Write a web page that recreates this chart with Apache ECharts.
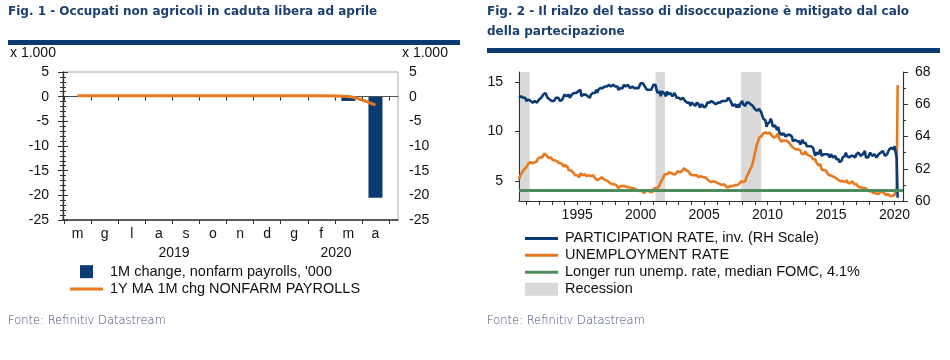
<!DOCTYPE html>
<html><head><meta charset="utf-8">
<script src="https://cdn.jsdelivr.net/npm/echarts@6/dist/echarts.min.js"></script>
<style>html,body{margin:0;padding:0;background:#fff}#c{width:950px;height:360px}</style>
</head><body><div id="c"></div>
<script>
// ---------- Fig. 1 data (millions, "x 1.000" thousand) ----------
const months = ['m','g','l','a','s','o','n','d','g','f','m','a'];          // May 2019 .. Apr 2020
const payrollChange = [0.09, 0.18, 0.16, 0.2, 0.2, 0.15, 0.26, 0.18, 0.21, 0.27, -0.87, -20.5];
const payrollMA1Y   = [0.18, 0.18, 0.17, 0.17, 0.17, 0.17, 0.18, 0.18, 0.18, 0.19, 0.05, -1.7];

// ---------- Fig. 2 data (monthly, from June 1990 to April 2020) ----------
const startYear = 1990, startMonth = 6;
const unemploymentRate = [
  5.2,5.5,5.7,5.9,5.9,6.2,6.3,
  6.4,6.6,6.8,6.7,6.9,6.9,6.8,6.9,6.9,7.0,7.0,7.3,
  7.3,7.4,7.4,7.4,7.6,7.8,7.7,7.6,7.6,7.3,7.4,7.4,
  7.3,7.1,7.0,7.1,7.1,7.0,6.9,6.8,6.7,6.8,6.6,6.5,
  6.6,6.6,6.5,6.4,6.1,6.1,6.1,6.0,5.9,5.8,5.6,5.5,
  5.6,5.4,5.4,5.8,5.6,5.6,5.7,5.7,5.6,5.5,5.6,5.6,
  5.6,5.5,5.5,5.6,5.6,5.3,5.5,5.1,5.2,5.2,5.4,5.4,
  5.3,5.2,5.2,5.1,4.9,5.0,4.9,4.8,4.9,4.7,4.6,4.7,
  4.6,4.6,4.7,4.3,4.4,4.5,4.5,4.5,4.6,4.5,4.4,4.4,
  4.3,4.4,4.2,4.3,4.2,4.3,4.3,4.2,4.2,4.1,4.1,4.0,
  4.0,4.1,4.0,3.8,4.0,4.0,4.0,4.1,3.9,3.9,3.9,3.9,
  4.2,4.2,4.3,4.4,4.3,4.5,4.6,4.9,5.0,5.3,5.5,5.7,
  5.7,5.7,5.7,5.9,5.8,5.8,5.8,5.7,5.7,5.7,5.9,6.0,
  5.8,5.9,5.9,6.0,6.1,6.3,6.2,6.1,6.1,6.0,5.8,5.7,
  5.7,5.6,5.8,5.6,5.6,5.6,5.5,5.4,5.4,5.5,5.4,5.4,
  5.3,5.4,5.2,5.2,5.1,5.0,5.0,4.9,5.0,5.0,5.0,4.9,
  4.7,4.8,4.7,4.7,4.6,4.6,4.7,4.7,4.5,4.4,4.5,4.4,
  4.6,4.5,4.4,4.5,4.4,4.6,4.7,4.6,4.7,4.7,4.7,5.0,
  5.0,4.9,5.1,5.0,5.4,5.6,5.8,6.1,6.1,6.5,6.8,7.3,
  7.8,8.3,8.7,9.0,9.4,9.5,9.5,9.6,9.8,10.0,9.9,9.9,
  9.8,9.8,9.9,9.9,9.6,9.4,9.4,9.5,9.5,9.4,9.8,9.3,
  9.1,9.0,9.0,9.1,9.0,9.1,9.0,9.0,9.0,8.8,8.6,8.5,
  8.3,8.3,8.2,8.2,8.2,8.2,8.2,8.1,7.8,7.8,7.7,7.9,
  8.0,7.7,7.5,7.6,7.5,7.5,7.3,7.2,7.2,7.2,6.9,6.7,
  6.6,6.7,6.7,6.2,6.3,6.1,6.2,6.1,5.9,5.7,5.8,5.6,
  5.7,5.5,5.4,5.4,5.6,5.3,5.2,5.1,5.0,5.0,5.1,5.0,
  4.8,4.9,5.0,5.1,4.8,4.9,4.8,4.9,5.0,4.9,4.7,4.7,
  4.7,4.6,4.4,4.4,4.4,4.3,4.3,4.4,4.3,4.2,4.2,4.1,
  4.0,4.1,4.0,4.0,3.8,4.0,3.8,3.8,3.7,3.8,3.8,3.9,
  4.0,3.8,3.8,3.7,3.6,3.6,3.7,3.6,3.5,3.6,3.5,3.5,
  3.6,3.5,4.4,14.7
];
const participationRate = [
  66.4,66.5,66.5,66.4,66.4,66.4,66.4,
  66.2,66.2,66.3,66.4,66.2,66.2,66.1,66.0,66.2,66.1,66.1,66.0,
  66.3,66.2,66.4,66.5,66.6,66.7,66.7,66.6,66.4,66.3,66.3,66.4,
  66.2,66.2,66.2,66.1,66.4,66.5,66.4,66.4,66.2,66.3,66.3,66.4,
  66.6,66.6,66.5,66.5,66.6,66.4,66.4,66.6,66.6,66.7,66.7,66.7,
  66.8,66.8,66.7,66.9,66.5,66.5,66.6,66.6,66.6,66.6,66.5,66.4,
  66.4,66.6,66.6,66.7,66.7,66.7,66.9,66.7,66.9,67.0,67.0,67.0,
  67.0,66.9,67.1,67.1,67.1,67.1,67.2,67.2,67.1,67.1,67.2,67.2,
  67.1,67.1,67.1,66.9,67.0,67.0,67.0,67.0,67.2,67.2,67.1,67.2,
  67.2,67.2,67.0,67.1,67.1,67.1,67.0,67.0,67.0,67.0,67.0,67.1,
  67.3,67.3,67.3,67.3,67.1,67.1,66.9,66.9,66.9,66.8,66.9,67.0,
  67.2,67.1,67.2,66.9,66.7,66.7,66.8,66.5,66.8,66.7,66.7,66.7,
  66.5,66.8,66.6,66.7,66.7,66.6,66.5,66.6,66.7,66.6,66.4,66.3,
  66.4,66.4,66.3,66.4,66.4,66.5,66.2,66.1,66.1,66.1,66.1,65.9,
  66.1,66.0,66.0,65.9,65.9,66.1,66.1,66.0,65.8,65.9,66.0,65.9,
  65.8,65.9,65.9,66.1,66.1,66.1,66.2,66.2,66.1,66.1,66.0,66.0,
  66.0,66.1,66.2,66.1,66.1,66.2,66.1,66.2,66.1,66.2,66.3,66.4,
  66.4,66.2,66.2,65.9,66.0,66.0,66.0,65.8,66.0,65.8,66.0,66.0,
  66.2,66.0,66.1,65.9,66.1,66.1,66.1,66.1,66.0,66.0,65.9,65.8,
  65.7,65.8,65.6,65.7,65.7,65.7,65.5,65.4,65.1,65.0,65.0,64.6,
  64.8,64.9,64.9,65.1,64.9,64.6,64.6,64.7,64.6,64.4,64.6,64.3,
  64.2,64.1,64.2,64.2,64.1,64.0,64.0,64.1,64.2,64.1,64.1,64.0,
  63.7,63.8,63.8,63.7,63.7,63.8,63.7,63.5,63.6,63.8,63.6,63.7,
  63.6,63.4,63.3,63.4,63.4,63.4,63.4,63.3,63.3,62.8,63.0,62.9,
  62.9,63.0,63.2,62.8,62.9,62.9,62.9,62.9,62.8,62.9,62.9,62.7,
  62.9,62.8,62.7,62.7,62.8,62.6,62.6,62.6,62.4,62.5,62.5,62.7,
  62.7,62.8,63.0,62.8,62.7,62.7,62.8,62.8,62.9,62.8,62.7,62.7,
  62.9,62.9,63.0,62.9,62.8,62.8,62.9,62.9,63.1,62.7,62.8,62.7,
  62.7,63.0,62.9,62.8,62.8,62.9,62.9,62.7,62.7,62.9,62.9,63.0,
  63.1,63.1,63.0,62.8,62.9,62.9,63.0,63.2,63.2,63.3,63.2,63.2,
  63.4,63.4,62.7,60.2
];
const fomcLongRun = 4.1;
const recessions = [[1990.5, 1991.25], [2001.17, 2001.92], [2007.92, 2009.5]];
const yearLabels = [1995, 2000, 2005, 2010, 2015, 2020];
const yearTicks = [1991,1992,1993,1994,1995,1996,1997,1998,1999,2000,2001,2002,2003,2004,2005,2006,2007,2008,2009,2010,2011,2012,2013,2014,2015,2016,2017,2018,2019,2020];
const leftTicks2 = [5, 10, 15];

const dateOf = i => startYear + (startMonth - 1) / 12 + i / 12;
const unempData = unemploymentRate.map((v, i) => [dateOf(i), v]);
const partData = participationRate.map((v, i) => [dateOf(i), v]);

const NAVY = '#0c3b73', ORANGE = '#e8791f', GREEN = '#4f8c5c', GREY = '#d9d9d9';
const AX = '#333', LBL = '#111';
const FONT = '"Liberation Sans", Arial, sans-serif';
const TITLE_FONT = 'bold 12px "DejaVu Sans", sans-serif';
const SRC_FONT = '200 11.5px "DejaVu Sans", sans-serif';
const LINE_ICON = 'path://M0,0h33v3h-33z';

const NAMES = {
  bar: "1M change, nonfarm payrolls, '000",
  ma: '1Y MA 1M chg NONFARM PAYROLLS',
  part: 'PARTICIPATION RATE, inv. (RH Scale)',
  unemp: 'UNEMPLOYMENT RATE',
  fomc: 'Longer run unemp. rate, median FOMC, 4.1%',
  rec: 'Recession'
};

const chart = echarts.init(document.getElementById('c'), null, {renderer: 'canvas'});
const lblStyle = {color: LBL, fontSize: 14, fontFamily: FONT};
const hidden = {show: false};

const option = {
  animation: false,
  backgroundColor: '#fff',
  textStyle: {fontFamily: FONT},
  grid: [
    {left: 63, right: 552, top: 72, bottom: 140, show: true, borderColor: '#a6a6a6', borderWidth: 1, backgroundColor: 'transparent'},
    {left: 64, width: 325, top: 72, bottom: 140},
    {left: 519, right: 47, top: 72, bottom: 159}
  ],
  xAxis: [
    {gridIndex: 0, type: 'value', min: 0, max: 1, axisLine: {show: true, onZero: true, lineStyle: {color: '#555', width: 1}}, axisTick: hidden, axisLabel: hidden, splitLine: hidden},
    {gridIndex: 0, type: 'value', min: 0, max: 1, position: 'bottom', axisLine: {show: true, onZero: false, lineStyle: {color: AX, width: 1.5}}, axisTick: hidden, axisLabel: hidden, splitLine: hidden},
    {gridIndex: 1, type: 'category', data: months, position: 'bottom', boundaryGap: true,
      axisLine: {show: false, onZero: false}, axisTick: {show: true, length: 4, lineStyle: {color: AX}},
      axisLabel: Object.assign({margin: 7, interval: 0}, lblStyle), splitLine: hidden},
    {gridIndex: 1, type: 'category', data: months, position: 'bottom', boundaryGap: true,
      axisLine: {show: false, onZero: true}, axisTick: {show: true, length: 4, lineStyle: {color: AX}},
      axisLabel: hidden, splitLine: hidden},
    {gridIndex: 2, type: 'value', min: dateOf(0), max: 2020.67,
      axisLine: {show: true, onZero: false, lineStyle: {color: AX, width: 1.2}},
      axisTick: {show: true, length: 4, customValues: yearTicks, lineStyle: {color: AX}},
      axisLabel: Object.assign({margin: 7, customValues: yearLabels, formatter: v => String(Math.round(v))}, lblStyle),
      splitLine: hidden}
  ],
  yAxis: [
    {gridIndex: 0, type: 'value', min: -25, max: 5, interval: 5, position: 'left',
      axisLine: {show: true, lineStyle: {color: AX, width: 1.2}},
      axisTick: {show: true, length: 5, lineStyle: {color: AX}},
      minorTick: {show: true, splitNumber: 5, length: 3, lineStyle: {color: AX}},
      axisLabel: Object.assign({margin: 14}, lblStyle), splitLine: hidden},
    {gridIndex: 0, type: 'value', min: -25, max: 5, interval: 5, position: 'right',
      axisLine: {show: true, lineStyle: {color: AX, width: 1.2}},
      axisTick: {show: true, length: 5, lineStyle: {color: AX}},
      minorTick: {show: true, splitNumber: 5, length: 3, lineStyle: {color: AX}},
      axisLabel: Object.assign({margin: 11}, lblStyle), splitLine: hidden},
    {gridIndex: 1, type: 'value', min: -25, max: 5, show: false},
    {gridIndex: 2, type: 'value', min: 3, max: 16, position: 'left',
      axisLine: {show: true, onZero: false, lineStyle: {color: AX, width: 1.2}},
      axisTick: {show: true, length: 4, customValues: leftTicks2, lineStyle: {color: AX}},
      axisLabel: Object.assign({margin: 16, customValues: leftTicks2}, lblStyle), splitLine: hidden},
    {gridIndex: 2, type: 'value', min: 60, max: 68, interval: 2, position: 'right',
      axisLine: {show: true, onZero: false, lineStyle: {color: AX, width: 1.2}},
      axisTick: {show: true, length: 5, lineStyle: {color: AX}},
      minorTick: {show: true, splitNumber: 2, length: 3, lineStyle: {color: AX}},
      axisLabel: Object.assign({margin: 12}, lblStyle), splitLine: hidden}
  ],
  legend: [
    {left: 70, top: 263, padding: 0, orient: 'vertical', itemWidth: 33, itemHeight: 13, itemGap: 0,
      textStyle: {color: LBL, fontSize: 14.5, fontFamily: FONT, lineHeight: 17.3, padding: [0, 0, 0, 2]}, selectedMode: false,
      data: [{name: NAMES.bar, icon: 'path://M0,0h10v10h-10z'}, {name: NAMES.ma, icon: LINE_ICON}]},
    {left: 525, top: 230, padding: 0, orient: 'vertical', itemWidth: 33, itemHeight: 13, itemGap: 0,
      textStyle: {color: LBL, fontSize: 14.5, fontFamily: FONT, lineHeight: 16.9, padding: [0, 0, 0, 2]}, selectedMode: false,
      data: [{name: NAMES.part, icon: LINE_ICON}, {name: NAMES.unemp, icon: LINE_ICON}, {name: NAMES.fomc, icon: LINE_ICON}, {name: NAMES.rec, icon: 'rect'}]}
  ],
  series: [
    {name: NAMES.bar, type: 'bar', xAxisIndex: 2, yAxisIndex: 2, data: payrollChange, barWidth: 14,
      itemStyle: {color: NAVY}, silent: true},
    {name: NAMES.ma, type: 'line', xAxisIndex: 2, yAxisIndex: 2, data: payrollMA1Y, symbol: 'none', smooth: 0.3,
      lineStyle: {color: ORANGE, width: 3}, itemStyle: {color: ORANGE}, silent: true, z: 5},
    {name: NAMES.rec, type: 'line', xAxisIndex: 4, yAxisIndex: 3, data: [], symbol: 'none',
      itemStyle: {color: GREY}, lineStyle: {color: GREY},
      markArea: {silent: true, itemStyle: {color: GREY}, data: recessions.map(r => [{xAxis: r[0]}, {xAxis: r[1]}])}},
    {name: NAMES.fomc, type: 'line', xAxisIndex: 4, yAxisIndex: 3, data: [], symbol: 'none',
      itemStyle: {color: GREEN}, lineStyle: {color: GREEN, width: 3},
      markLine: {silent: true, symbol: ['none', 'none'], label: {show: false}, lineStyle: {color: GREEN, width: 3, type: 'solid'},
        data: [{yAxis: fomcLongRun}]}},
    {name: NAMES.unemp, type: 'line', xAxisIndex: 4, yAxisIndex: 3, data: unempData, symbol: 'none',
      lineStyle: {color: ORANGE, width: 2.6}, itemStyle: {color: ORANGE}, silent: true, z: 3},
    {name: NAMES.part, type: 'line', xAxisIndex: 4, yAxisIndex: 4, data: partData, symbol: 'none',
      lineStyle: {color: NAVY, width: 2.6}, itemStyle: {color: NAVY}, silent: true, z: 4}
  ],
  graphic: [
    {type: 'text', left: 8, top: 6, style: {text: 'Fig. 1 - Occupati non agricoli in caduta libera ad aprile', font: TITLE_FONT, fill: '#1c3f6e'}},
    {type: 'rect', shape: {x: 8, y: 40, width: 452, height: 5}, style: {fill: NAVY}},
    {type: 'text', x: 10, y: 53, style: {text: 'x 1.000', font: '14px ' + FONT, fill: LBL, verticalAlign: 'middle'}},
    {type: 'text', x: 402, y: 53, style: {text: 'x 1.000', font: '14px ' + FONT, fill: LBL, verticalAlign: 'middle'}},
    {type: 'text', x: 174, y: 253, style: {text: '2019', font: '14px ' + FONT, fill: LBL, align: 'center', verticalAlign: 'middle'}},
    {type: 'text', x: 336, y: 253, style: {text: '2020', font: '14px ' + FONT, fill: LBL, align: 'center', verticalAlign: 'middle'}},
    {type: 'text', left: 8, top: 315, style: {text: 'Fonte: Refinitiv Datastream', font: SRC_FONT, fill: '#3f4f70'}},
    {type: 'text', left: 487, top: 6, style: {text: 'Fig. 2 - Il rialzo del tasso di disoccupazione è mitigato dal calo', font: TITLE_FONT, fill: '#1c3f6e'}},
    {type: 'text', left: 487, top: 26, style: {text: 'della partecipazione', font: TITLE_FONT, fill: '#1c3f6e'}},
    {type: 'rect', shape: {x: 487, y: 48, width: 453, height: 5}, style: {fill: NAVY}},
    {type: 'text', left: 487, top: 315, style: {text: 'Fonte: Refinitiv Datastream', font: SRC_FONT, fill: '#3f4f70'}}
  ]
};
chart.setOption(option);
</script>
</body></html>
